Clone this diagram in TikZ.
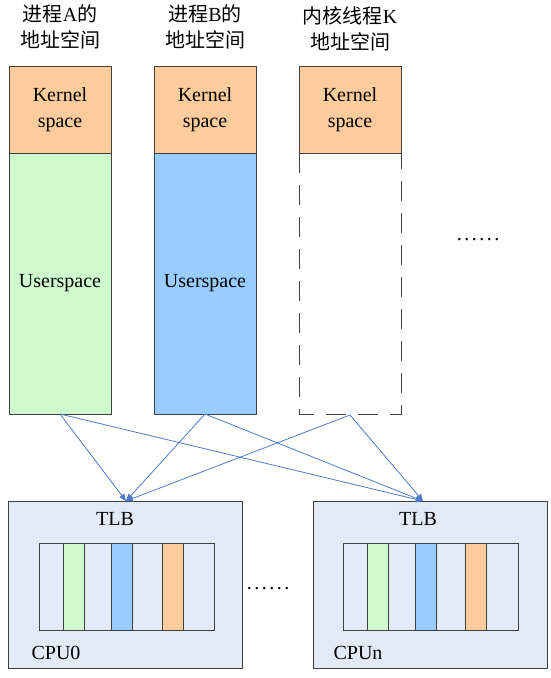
\documentclass[tikz,border=0pt]{standalone}
\usepackage{fontspec}
\setmainfont{Liberation Serif}
\newfontfamily\cjk{Noto Sans CJK SC}
\usetikzlibrary{arrows.meta}
\definecolor{kernelorange}{RGB}{252,204,156}
\definecolor{usergreen}{RGB}{206,250,206}
\definecolor{userblue}{RGB}{153,204,255}
\definecolor{cpufill}{RGB}{226,234,246}
\definecolor{linkblue}{RGB}{78,122,204}
\newcommand{\moredots}{.\kern2.5pt.\kern2.5pt.\kern2.5pt.\kern2.5pt.\kern2.5pt.}
\begin{document}
\begin{tikzpicture}[x=1pt,y=-1pt,
    lbl/.style={font=\fontsize{20}{26}\selectfont, align=center, inner sep=0pt},
    boxline/.style={draw=black!75, line width=0.9pt},
    link/.style={-{Triangle[length=7pt,width=6pt]}, draw=linkblue, line width=0.8pt}]
        \useasboundingbox (0,0) rectangle (550,678);

        % address spaces
        \coordinate (A) at (9,66);
        \coordinate (B) at (154,66);
        \coordinate (K) at (299,66);
        \draw[boxline, fill=kernelorange] (A) rectangle ++(102,87);
        \draw[boxline, fill=usergreen] (A)++(0,87) rectangle ++(102,261);
        \draw[boxline, fill=kernelorange] (B) rectangle ++(102,87);
        \draw[boxline, fill=userblue] (B)++(0,87) rectangle ++(102,261);
        \draw[boxline, fill=kernelorange] (K) rectangle ++(102,87);
        \draw[boxline, dash pattern=on 20pt off 12pt] (K)++(0,87) rectangle ++(102,261);

        \node[lbl] (hA) at (60,27) {{\cjk 进程}A{\cjk 的}\\{\cjk 地址空间}};
        \node[lbl] (hB) at (205,27) {{\cjk 进程}B{\cjk 的}\\{\cjk 地址空间}};
        \node[lbl] (hK) at (350,29) {{\cjk 内核线程}K\\{\cjk 地址空间}};
        \node[lbl] (kA) at (60,110) {Kernel\\space};
        \node[lbl] (kB) at (205,110) {Kernel\\space};
        \node[lbl] (kK) at (350,110) {Kernel\\space};
        \node[lbl] (uA) at (60,283) {Userspace};
        \node[lbl] (uB) at (205,283) {Userspace};
        \node[lbl] (more) at (478,240) {\moredots};

        % cpus
        \coordinate (C0) at (8,501);
        \coordinate (Cn) at (313,501);
        \draw[boxline, fill=cpufill] (C0) rectangle ++(234,167);
        \draw[boxline, fill=cpufill] (Cn) rectangle ++(234,167);
        \draw[boxline, fill=cpufill] (C0)++(31,42) rectangle ++(175,87);
        \draw[boxline, fill=cpufill] (Cn)++(30,42) rectangle ++(175,87);
        \foreach \c/\x/\col in {C0/55/usergreen, C0/103/userblue, C0/154/kernelorange,
                                Cn/54/usergreen, Cn/102/userblue, Cn/152/kernelorange} {
            \draw[boxline, fill=\col] (\c)++(\x,42) rectangle ++(21,87);
        }
        \node[lbl] (tlb0) at (115,519) {TLB};
        \node[lbl] (tlbn) at (418,519) {TLB};
        \node[lbl] (cpu0) at (56,653) {CPU0};
        \node[lbl] (cpun) at (358,653) {CPUn};
        \node[lbl] (mid) at (268,589) {\moredots};

        % links
        \coordinate (oA) at (60,414);
        \coordinate (oB) at (205,414);
        \coordinate (oK) at (350,415);
        \coordinate (in0) at (126,501);
        \coordinate (inn) at (423,501);
        \foreach \s in {oA,oB,oK} {
            \draw[link] (\s) -- (in0);
            \draw[link] (\s) -- (inn);
        }
    \end{tikzpicture}
\end{document}
